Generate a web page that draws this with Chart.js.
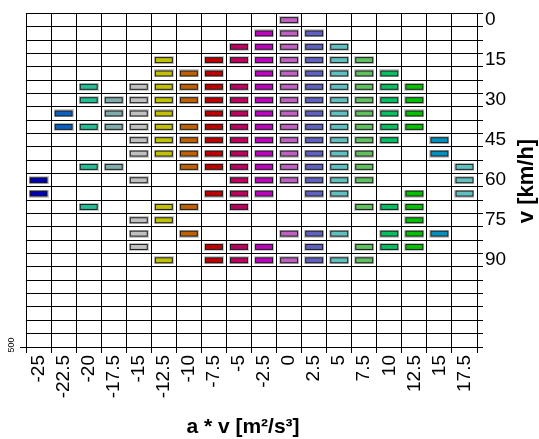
<!DOCTYPE html>
<html>
<head>
<meta charset="utf-8">
<script src="https://cdn.jsdelivr.net/npm/chart.js@4"></script>
<style>
  html, body { margin: 0; padding: 0; background: #fff; }
  canvas { display: block; }
</style>
</head>
<body>
<canvas id="chart" width="539" height="439"></canvas>
<script>
// a*v categories (columns) and speed rows (km/h)
const xLabels = ['-25', '-22.5', '-20', '-17.5', '-15', '-12.5', '-10', '-7.5', '-5', '-2.5',
                 '0', '2.5', '5', '7.5', '10', '12.5', '15', '17.5'];
const speedLabels = ['0', '5', '10', '15', '20', '25', '30', '35', '40', '45', '50', '55', '60',
                     '65', '70', '75', '80', '85', '90', '95', '100', '105', '110', '115', '120'];
const speedTicks = ['0', '15', '30', '45', '60', '75', '90'];

// occupied speeds per a*v column
const spM25   = [60, 65];
const spM22_5 = [35, 40];
const spM20   = [25, 30, 40, 55, 70];
const spM17_5 = [30, 35, 40, 55];
const spM15   = [25, 30, 35, 40, 45, 50, 60, 75, 80, 85];
const spM12_5 = [15, 20, 25, 30, 35, 40, 45, 50, 70, 75, 90];
const spM10   = [20, 25, 30, 40, 45, 50, 55, 70, 80];
const spM7_5  = [15, 20, 25, 30, 35, 40, 45, 50, 55, 65, 85, 90];
const spM5    = [10, 15, 25, 30, 35, 40, 45, 50, 55, 60, 65, 70, 85, 90];
const spM2_5  = [5, 10, 15, 20, 25, 30, 35, 40, 45, 50, 55, 60, 65, 85, 90];
const sp0     = [0, 5, 10, 15, 20, 25, 30, 35, 40, 45, 50, 55, 60, 80, 90];
const sp2_5   = [5, 10, 15, 20, 25, 30, 35, 40, 45, 50, 55, 60, 65, 80, 85, 90];
const sp5     = [10, 15, 20, 25, 30, 35, 40, 45, 50, 55, 60, 65, 80, 90];
const sp7_5   = [15, 20, 25, 30, 35, 40, 45, 50, 55, 60, 70, 85, 90];
const sp10    = [20, 25, 30, 35, 40, 45, 70, 80, 85];
const sp12_5  = [25, 30, 35, 40, 65, 70, 75, 80, 85];
const sp15    = [45, 50, 80];
const sp17_5  = [55, 60, 65];

const columnSpeeds = [spM25, spM22_5, spM20, spM17_5, spM15, spM12_5, spM10, spM7_5, spM5, spM2_5,
                      sp0, sp2_5, sp5, sp7_5, sp10, sp12_5, sp15, sp17_5];

const columnColors = ['#0000b4', '#0a60c0', '#20c094', '#7fabab', '#c0c0c0', '#c0c000', '#c06000',
                      '#c00000', '#c00060', '#c000c0', '#c060c0', '#6060c0', '#60c0c0', '#60c060',
                      '#00c060', '#00c000', '#0090c0', '#60c0c0'];

const FONT = "'Liberation Sans', Arial, sans-serif";

// small bar-like marker with dark border and a soft grey halo
function makeMarker(color) {
    const c = document.createElement('canvas');
    c.width = 20;
    c.height = 8;
    const g = c.getContext('2d');
    g.fillStyle = '#c8c8c8';
    g.fillRect(0, 0, 20, 8);
    g.fillStyle = '#1a1a1a';
    g.fillRect(1, 1, 18, 6);
    g.fillStyle = color;
    g.fillRect(2, 2, 16, 4);
    return c;
}

const datasets = columnSpeeds.map((speeds, i) => ({
    label: xLabels[i],
    data: speeds.map(v => ({ x: xLabels[i], y: String(v) })),
    pointStyle: makeMarker(columnColors[i]),
    pointRadius: 9,
    showLine: false
}));

// axis titles and the stray "500" mark, placed like the original
const extrasPlugin = {
    id: 'extras',
    afterDraw(chart) {
        const ctx = chart.ctx;
        const area = chart.chartArea;
        ctx.save();
        ctx.fillStyle = '#000';
        ctx.textAlign = 'center';
        ctx.textBaseline = 'middle';

        ctx.font = 'bold 21px ' + FONT;
        ctx.fillText('a * v [m²/s³]', 243, 427);

        ctx.save();
        ctx.translate(527, 181);
        ctx.rotate(-Math.PI / 2);
        ctx.font = 'bold 22px ' + FONT;
        ctx.fillText('v [km/h]', 0, 0);
        ctx.restore();

        ctx.strokeStyle = '#000';
        ctx.lineWidth = 1;
        ctx.beginPath();
        ctx.moveTo(20, Math.round(area.bottom) + 0.5);
        ctx.lineTo(area.left, Math.round(area.bottom) + 0.5);
        ctx.stroke();

        ctx.save();
        ctx.translate(12, 345);
        ctx.rotate(-Math.PI / 2);
        ctx.font = '9px ' + FONT;
        ctx.fillText('500', 0, 0);
        ctx.restore();
        ctx.restore();
    }
};

new Chart(document.getElementById('chart').getContext('2d'), {
    type: 'scatter',
    data: { datasets: datasets },
    options: {
        responsive: false,
        animation: false,
        layout: { padding: { left: 26, top: 13, right: 0, bottom: 0 } },
        plugins: {
            legend: { display: false },
            tooltip: { enabled: false }
        },
        scales: {
            x: {
                type: 'category',
                labels: xLabels,
                offset: true,
                grid: { offset: true, color: '#000', lineWidth: 1, tickLength: 6 },
                border: { color: '#000', width: 1 },
                ticks: {
                    autoSkip: false,
                    minRotation: 90,
                    maxRotation: 90,
                    padding: 2,
                    color: '#000',
                    font: { family: FONT, size: 19 }
                },
                afterFit: s => { s.height = 92; }
            },
            y: {
                type: 'category',
                position: 'right',
                labels: speedLabels,
                offset: true,
                grid: { offset: true, color: '#000', lineWidth: 1, tickLength: 6 },
                border: { color: '#000', width: 1 },
                ticks: {
                    autoSkip: false,
                    padding: 2,
                    color: '#000',
                    font: { family: FONT, size: 19 },
                    callback: function (value) {
                        const lbl = this.getLabelForValue(value);
                        return speedTicks.includes(lbl) ? lbl : '';
                    }
                },
                afterFit: s => { s.width = 62; }
            }
        }
    },
    plugins: [extrasPlugin]
});
</script>
</body>
</html>
